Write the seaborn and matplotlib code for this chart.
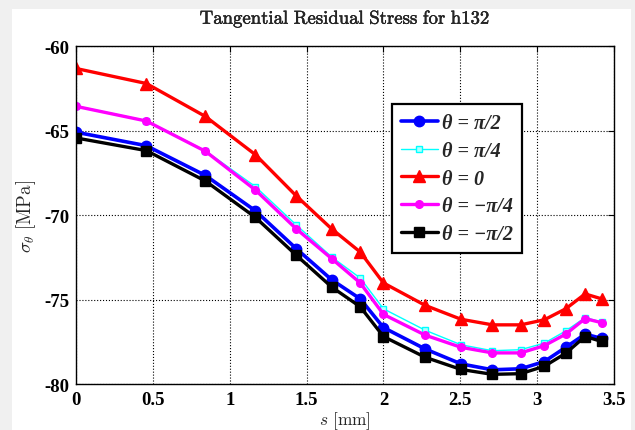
import numpy as np
import pandas as pd
import matplotlib
matplotlib.use("Agg")
import matplotlib.pyplot as plt
import matplotlib.patheffects as pe
import seaborn as sns
from matplotlib.patches import Rectangle

# positions along the surface, s [mm]
s_mm = [0, 0.458, 0.842, 1.167, 1.433, 1.663, 1.849, 2.0, 2.272, 2.505,
        2.709, 2.893, 3.047, 3.186, 3.312, 3.419]

# tangential residual stress [MPa] for each theta
sig_pi2 = [-65.1, -65.9, -67.66, -69.75, -71.99, -73.83, -74.96, -76.66, -77.93,
           -78.81, -79.16, -79.1, -78.67, -77.83, -77.05, -77.3]
sig_pi4 = [-63.55, -64.42, -66.2, -68.32, -70.59, -72.48, -73.73, -75.55, -76.82,
           -77.68, -78.03, -77.97, -77.58, -76.86, -76.07, -76.33]
sig_0 = [-61.33, -62.22, -64.17, -66.43, -68.87, -70.82, -72.19, -74.02, -75.35,
         -76.17, -76.5, -76.5, -76.2, -75.55, -74.67, -74.96]
sig_mpi4 = [-63.57, -64.44, -66.23, -68.52, -70.82, -72.58, -74.02, -75.88, -77.11,
            -77.83, -78.16, -78.16, -77.73, -77.05, -76.13, -76.37]
sig_mpi2 = [-65.44, -66.19, -67.99, -70.14, -72.38, -74.26, -75.43, -77.19, -78.42,
            -79.14, -79.43, -79.39, -78.95, -78.18, -77.19, -77.48]

labels = ["θ = π/2", "θ = π/4", "θ = 0", "θ = −π/4", "θ = −π/2"]

sns.set_style("white")
plt.rcParams['font.family'] = ['Liberation Serif', 'DejaVu Serif']
plt.rcParams['mathtext.fontset'] = 'cm'
plt.rcParams['axes.unicode_minus'] = False

fig = plt.figure(figsize=(6.35, 4.31), dpi=100, facecolor='#f0f0f0')
fig.patches.append(Rectangle((12 / 635, 0), (631 - 12) / 635, 421 / 431,
                             transform=fig.transFigure, facecolor='white',
                             edgecolor='none', zorder=-10))
ax = fig.add_axes([76 / 635, 1 - 385 / 431, 538 / 635, 338 / 431])
ax.set_facecolor('white')

styles = [
    dict(color='blue', marker='o', lw=2.6, ms=7.5, mfc='blue', mec='blue'),
    dict(color='cyan', marker='s', lw=1.0, ms=5, mfc='#b0ffff', mec='cyan'),
    dict(color='red', marker='^', lw=2.4, ms=8.5, mfc='red', mec='red'),
    dict(color='magenta', marker='o', lw=2.4, ms=5.5, mfc='magenta', mec='magenta'),
    dict(color='black', marker='s', lw=2.4, ms=6.5, mfc='black', mec='black'),
]
series = [sig_pi2, sig_pi4, sig_0, sig_mpi4, sig_mpi2]

for ys, lab, st in zip(series, labels, styles):
    sns.lineplot(x=s_mm, y=ys, ax=ax, label=lab, color=st['color'],
                 marker=st['marker'], linewidth=st['lw'], markersize=st['ms'],
                 markerfacecolor=st['mfc'], markeredgecolor=st['mec'],
                 markeredgewidth=1.0)

ax.set_xlim(0, 3.5)
ax.set_ylim(-80, -60)
ax.set_xticks(np.arange(0, 3.51, 0.5))
ax.set_yticks(np.arange(-80, -59, 5))
ax.set_xticklabels(['0', '0.5', '1', '1.5', '2', '2.5', '3', '3.5'])
ax.set_yticklabels(['-80', '-75', '-70', '-65', '-60'])
ax.tick_params(direction='in', top=True, right=True, length=4, width=0.8,
               labelsize=13.5, pad=5, colors='black')
for t in ax.get_xticklabels() + ax.get_yticklabels():
    t.set_fontweight('bold')
ax.grid(True, linestyle=':', color='black', linewidth=0.8)
for sp in ax.spines.values():
    sp.set_color('black')
    sp.set_linewidth(1.0)

title = ax.set_title(r'$\mathrm{Tangential\ Residual\ Stress\ for\ h132}$',
                     fontsize=13.5, pad=16)
title.set_path_effects([pe.withStroke(linewidth=0.3, foreground='black')])
ax.set_xlabel(r'$s\ \mathrm{[mm]}$', fontsize=12.5, labelpad=1)
ax.set_ylabel(r'$\sigma_\theta\ \mathrm{[MPa]}$', fontsize=13.5, labelpad=4)

leg = ax.legend(loc='upper left', bbox_to_anchor=(0.587, 0.828), borderaxespad=0,
                fancybox=False, framealpha=1, edgecolor='black', handlelength=1.85,
                labelspacing=0.38, handletextpad=0.2, borderpad=0.45,
                prop=dict(family=['Liberation Serif', 'DejaVu Serif'], weight='bold',
                          style='italic', size=14.5))
leg.get_frame().set_linewidth(1.6)

fig.savefig('out.png', dpi=100, facecolor=fig.get_facecolor())
